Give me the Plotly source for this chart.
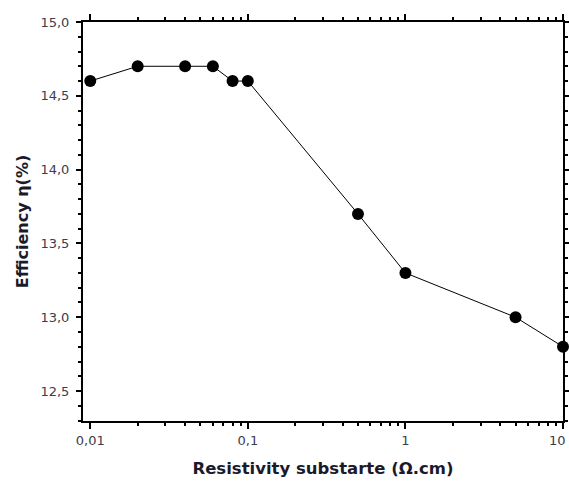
import math
import plotly.graph_objects as go

# Substrate resistivity (Ohm.cm) and cell efficiency (%)
resistivity = [0.01, 0.02, 0.04, 0.06, 0.08, 0.1, 0.5, 1, 5, 10]
efficiency = [14.6, 14.7, 14.7, 14.7, 14.6, 14.6, 13.7, 13.3, 13.0, 12.8]

x_tick_vals = [0.01, 0.1, 1, 10]
x_tick_text = ["0,01", "0,1", "1", "10"]
y_tick_vals = [12.5, 13.0, 13.5, 14.0, 14.5, 15.0]

minor_x = [m * 10 ** e for e in (-2, -1, 0) for m in range(2, 10)]

fig = go.Figure()
fig.add_trace(go.Scatter(
    x=resistivity, y=efficiency,
    mode="lines+markers",
    line=dict(color="black", width=1),
    marker=dict(color="black", size=12, symbol="circle"),
    cliponaxis=False,
))

font_family = "DejaVu Sans, Verdana, sans-serif"
tick_font = dict(family=font_family, size=13, color="#3c3c4c")

fig.update_layout(
    width=569, height=484,
    margin=dict(l=83, r=6, t=22, b=63),
    plot_bgcolor="white", paper_bgcolor="white",
    separators=",.",
    showlegend=False,
    font=dict(family=font_family),
)

fig.update_xaxes(
    type="log",
    range=[-2.046, 1],
    automargin=False,
    tickvals=x_tick_vals, ticktext=x_tick_text,
    ticks="outside", ticklen=6, tickwidth=1.5, tickcolor="black",
    showline=True, linecolor="black", linewidth=2, mirror="ticks",
    showgrid=False, zeroline=False,
    tickfont=tick_font,
    minor=dict(tickvals=minor_x, ticks="outside", ticklen=3, tickwidth=1.5,
               tickcolor="black", showgrid=False),
    title=dict(text="<b>Resistivity substarte (Ω.cm)</b>",
               font=dict(family=font_family, size=16.5, color="#1a1a2a"),
               standoff=16),
)

# The last decade label lies at the right edge of the page, where plotly
# drops it; it is drawn as an annotation kept just inside the page.
fig.add_annotation(
    x=math.log10(x_tick_vals[-1]), xref="x",
    y=0, yref="paper", yshift=-19, xshift=5,
    text=x_tick_text[-1], showarrow=False,
    xanchor="right", yanchor="middle",
    font=tick_font,
)

fig.update_yaxes(
    range=[12.297, 15.0],
    automargin=False,
    tickvals=y_tick_vals, tickformat=".1f",
    ticks="outside", ticklen=5, tickwidth=1.5, tickcolor="black",
    ticklabelstandoff=4,
    showline=True, linecolor="black", linewidth=2, mirror="ticks",
    showgrid=False, zeroline=False,
    tickfont=tick_font,
    minor=dict(dtick=0.1, ticks="outside", ticklen=3, tickwidth=1.5,
               tickcolor="black", showgrid=False),
    title=dict(text="<b>Efficiency η(%)</b>",
               font=dict(family=font_family, size=16, color="#1a1a2a"),
               standoff=8),
)

fig.write_html("out.html")
